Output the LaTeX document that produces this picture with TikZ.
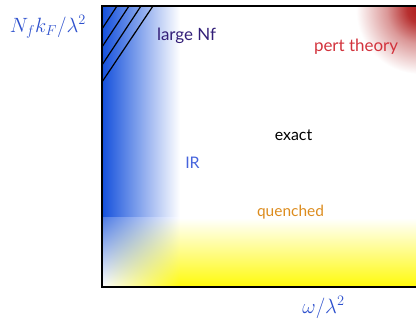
\documentclass[tikz,border=0pt]{standalone}
\usepackage{fontspec}
\setmainfont{Lato}
\usetikzlibrary{shadings}
\definecolor{blueC}{RGB}{20,80,220}
\definecolor{yellowC}{RGB}{255,250,10}
\definecolor{redC}{RGB}{175,25,25}
\definecolor{mathblue}{RGB}{45,80,205}
\definecolor{nfC}{RGB}{50,30,120}
\definecolor{pertC}{RGB}{210,50,60}
\definecolor{irC}{RGB}{70,100,220}
\definecolor{quenC}{RGB}{220,140,30}
\pgfdeclareradialshading{redblob}{\pgfpointorigin}{color(0bp)=(redC); color(5bp)=(redC!90!white); color(13bp)=(redC!45!white); color(25bp)=(white); color(50bp)=(white)}
\begin{document}
\begin{tikzpicture}[x=1bp,y=1bp,
  lbl/.style={anchor=base, inner sep=0pt},
  axlbl/.style={font=\fontsize{21.5}{24}\selectfont, text=mathblue, anchor=base, inner sep=0pt},
  frame/.style={line width=1.3bp, black},
  hatch/.style={line width=1.2bp, black}]
\useasboundingbox (0,0) rectangle (416,321);
% coordinates of the frame
\coordinate (ll) at (102,34);
\coordinate (ul) at (102,315);
\coordinate (ur) at (416,315);
\coordinate (lr) at (416,34);
% blue IR band
\shade[left color=blueC, right color=white] (102,103) rectangle (180,315);
% corner
\shade[upper left=blueC!75, upper right=white, lower left=white, lower right=yellowC] (102,34) rectangle (180,103);
% yellow quenched band
\shade[top color=white, bottom color=yellowC] (180,34) rectangle (416,103);
% red blob
\begin{scope}
\clip (102,34) rectangle (416,315);
\shade[shading=redblob] (420,311) circle (64);
\end{scope}
% hatching
\coordinate (h1a) at (117,315); \coordinate (h1b) at (102,292);
\coordinate (h2a) at (129,315); \coordinate (h2b) at (102,274);
\coordinate (h3a) at (141,315); \coordinate (h3b) at (102,256);
\coordinate (h4a) at (153,315); \coordinate (h4b) at (102,239);
\draw[hatch] (h1a) -- (h1b);
\draw[hatch] (h2a) -- (h2b);
\draw[hatch] (h3a) -- (h3b);
\draw[hatch] (h4a) -- (h4b);
% frame
\draw[frame] (ur) -- (ul) -- (ll) -- (lr);
% labels
\node[lbl, text=nfC, font=\fontsize{17}{19}\selectfont] (nf) at (186.5,281) {large Nf};
\node[lbl, text=pertC, font=\fontsize{17}{19}\selectfont] (pert) at (356,270) {pert theory};
\node[lbl, text=black, font=\fontsize{16}{18}\selectfont] (exact) at (293.5,181) {exact};
\node[lbl, text=irC, font=\fontsize{16}{18}\selectfont] (ir) at (192.5,153) {IR};
\node[lbl, text=quenC, font=\fontsize{15.5}{18}\selectfont] (quen) at (290.5,105) {quenched};
\node[axlbl] (ylab) at (48,289) {$N_f k_F/\lambda^2$};
\node[axlbl] (xlab) at (323.5,8) {$\omega/\lambda^2$};
\end{tikzpicture}
\end{document}
